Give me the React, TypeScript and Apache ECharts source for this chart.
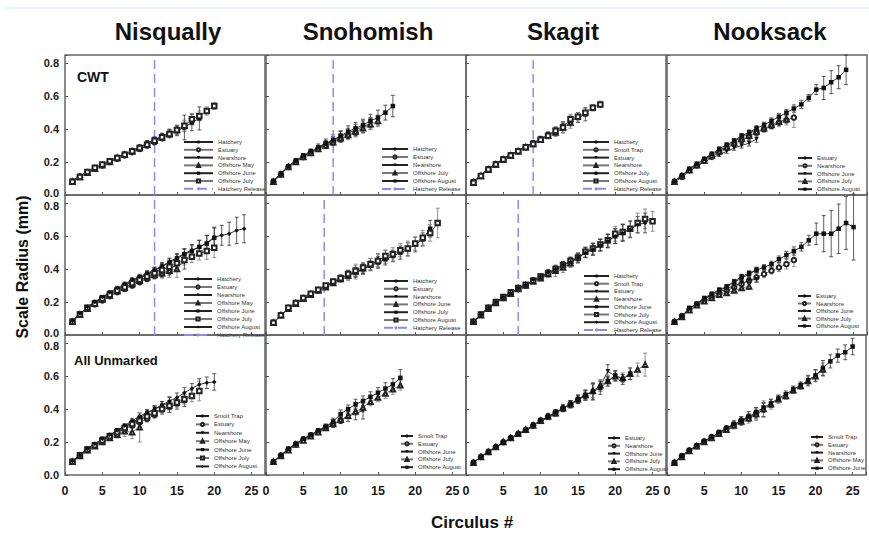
import React, { useEffect, useRef } from "react";
import * as echarts from "echarts";

const rivers = ["Nisqually", "Snohomish", "Skagit", "Nooksack"];
const rowLabels = ["CWT", "", "All Unmarked"];
const xAxisMax = 26.8;
const yAxisMax = 0.85;
const releaseCirculus = [
  [12, 9, 9, null],
  [12, 7.8, 7, null],
  [null, null, null, null],
];

// ---------- Row 1 (CWT) ----------
const nisCwtNames = ["Hatchery", "Estuary", "Nearshore", "Offshore May", "Offshore June", "Offshore July"];
const nisCwtValues = [
  [0.085, 0.115, 0.14, 0.165, 0.185, 0.205, 0.225, 0.245, 0.265, 0.285, 0.31, 0.33],
  [0.08, 0.11, 0.135, 0.16, 0.18, 0.2, 0.22, 0.24, 0.26, 0.28, 0.3, 0.32, 0.345, 0.37],
  [0.085, 0.115, 0.14, 0.165, 0.185, 0.205, 0.225, 0.245, 0.27, 0.29, 0.31, 0.335, 0.355, 0.375, 0.395],
  [0.08, 0.11, 0.135, 0.16, 0.18, 0.2, 0.225, 0.245, 0.265, 0.285, 0.305, 0.33, 0.35, 0.37, 0.395, 0.42],
  [0.085, 0.115, 0.14, 0.165, 0.185, 0.21, 0.23, 0.25, 0.27, 0.29, 0.315, 0.335, 0.355, 0.375, 0.39, 0.41, 0.44, 0.465],
  [0.08, 0.11, 0.14, 0.165, 0.185, 0.205, 0.225, 0.245, 0.265, 0.285, 0.305, 0.33, 0.35, 0.37, 0.395, 0.42, 0.46, 0.48, 0.51, 0.54],
];
const nisCwtErrors = [
  [0.005, 0.006, 0.007, 0.008, 0.008, 0.009, 0.01, 0.01, 0.011, 0.012, 0.013, 0.014],
  [0.005, 0.006, 0.007, 0.008, 0.009, 0.01, 0.01, 0.011, 0.012, 0.013, 0.014, 0.015, 0.016, 0.018],
  [0.005, 0.006, 0.007, 0.008, 0.009, 0.01, 0.011, 0.012, 0.013, 0.014, 0.015, 0.016, 0.018, 0.02, 0.025],
  [0.005, 0.006, 0.007, 0.008, 0.009, 0.01, 0.011, 0.012, 0.013, 0.014, 0.016, 0.018, 0.02, 0.025, 0.03, 0.035],
  [0.005, 0.006, 0.007, 0.008, 0.009, 0.01, 0.011, 0.012, 0.013, 0.014, 0.016, 0.018, 0.02, 0.025, 0.03, 0.075, 0.05, 0.07],
  [0.005, 0.006, 0.007, 0.008, 0.009, 0.01, 0.011, 0.012, 0.013, 0.014, 0.015, 0.016, 0.018, 0.02, 0.025, 0.03, 0.035, 0.03, 0.025, 0.02],
];

const snoCwtNames = ["Hatchery", "Estuary", "Nearshore", "Offshore July", "Offshore August"];
const snoCwtValues = [
  [0.085, 0.13, 0.175, 0.205, 0.235, 0.26, 0.285, 0.305, 0.325, 0.345],
  [0.08, 0.125, 0.17, 0.2, 0.23, 0.255, 0.28, 0.3, 0.32, 0.34, 0.36, 0.38],
  [0.085, 0.13, 0.17, 0.205, 0.235, 0.26, 0.285, 0.31, 0.33, 0.355, 0.375, 0.395, 0.415, 0.435],
  [0.08, 0.125, 0.17, 0.2, 0.23, 0.255, 0.28, 0.3, 0.32, 0.345, 0.365, 0.385, 0.405, 0.43, 0.45],
  [0.085, 0.13, 0.175, 0.21, 0.24, 0.265, 0.29, 0.315, 0.335, 0.36, 0.385, 0.405, 0.425, 0.45, 0.47, 0.5, 0.54],
];
const snoCwtErrors = [
  [0.005, 0.007, 0.008, 0.01, 0.012, 0.014, 0.016, 0.018, 0.02, 0.025],
  [0.005, 0.007, 0.008, 0.01, 0.012, 0.014, 0.016, 0.018, 0.02, 0.022, 0.025, 0.028],
  [0.005, 0.007, 0.008, 0.01, 0.012, 0.014, 0.016, 0.02, 0.025, 0.03, 0.03, 0.032, 0.035, 0.035],
  [0.005, 0.007, 0.008, 0.01, 0.012, 0.014, 0.016, 0.018, 0.02, 0.022, 0.025, 0.028, 0.03, 0.032, 0.035],
  [0.005, 0.007, 0.008, 0.01, 0.012, 0.015, 0.02, 0.025, 0.03, 0.03, 0.035, 0.035, 0.035, 0.04, 0.045, 0.045, 0.065],
];

const skaCwtNames = ["Hatchery", "Smolt Trap", "Estuary", "Nearshore", "Offshore July", "Offshore August"];
const skaCwtValues = [
  [0.08, 0.12, 0.16, 0.19, 0.22, 0.245, 0.27, 0.295, 0.315],
  [0.08, 0.115, 0.155, 0.185, 0.215, 0.24, 0.265, 0.29, 0.31, 0.335],
  [0.08, 0.12, 0.16, 0.19, 0.22, 0.245, 0.27, 0.295, 0.315, 0.34, 0.365, 0.385],
  [0.075, 0.115, 0.155, 0.185, 0.215, 0.24, 0.265, 0.29, 0.31, 0.335, 0.36, 0.38, 0.41, 0.44],
  [0.08, 0.12, 0.16, 0.19, 0.22, 0.245, 0.27, 0.295, 0.315, 0.34, 0.365, 0.39, 0.42, 0.45, 0.47, 0.49],
  [0.075, 0.115, 0.155, 0.185, 0.215, 0.24, 0.265, 0.29, 0.31, 0.335, 0.36, 0.39, 0.41, 0.46, 0.475, 0.5, 0.53, 0.55],
];
const skaCwtErrors = [
  [0.004, 0.005, 0.006, 0.007, 0.008, 0.009, 0.01, 0.011, 0.012],
  [0.004, 0.005, 0.006, 0.007, 0.008, 0.009, 0.01, 0.011, 0.012, 0.013],
  [0.004, 0.005, 0.006, 0.007, 0.008, 0.01, 0.011, 0.012, 0.013, 0.014, 0.015, 0.02],
  [0.004, 0.005, 0.006, 0.007, 0.008, 0.01, 0.011, 0.012, 0.014, 0.016, 0.018, 0.025, 0.03, 0.035],
  [0.004, 0.005, 0.006, 0.007, 0.008, 0.01, 0.011, 0.012, 0.014, 0.016, 0.018, 0.02, 0.025, 0.03, 0.03, 0.04],
  [0.004, 0.005, 0.006, 0.007, 0.008, 0.01, 0.011, 0.012, 0.014, 0.016, 0.018, 0.025, 0.035, 0.03, 0.025, 0.025, 0.02, 0.02],
];

const nooCwtNames = ["Estuary", "Nearshore", "Offshore June", "Offshore July", "Offshore August"];
const nooCwtValues = [
  [0.08, 0.115, 0.155, 0.185, 0.215, 0.245, 0.27, 0.295, 0.325, 0.35, 0.375, 0.395],
  [0.08, 0.11, 0.15, 0.18, 0.21, 0.235, 0.26, 0.285, 0.31, 0.335, 0.355, 0.38, 0.4, 0.42, 0.44, 0.455, 0.47],
  [0.08, 0.11, 0.145, 0.175, 0.2, 0.225, 0.245, 0.265, 0.285, 0.3, 0.315, 0.34],
  [0.08, 0.115, 0.15, 0.18, 0.21, 0.24, 0.265, 0.29, 0.315, 0.34, 0.36, 0.385, 0.405, 0.425, 0.445, 0.46],
  [0.085, 0.12, 0.16, 0.19, 0.22, 0.25, 0.28, 0.305, 0.33, 0.36, 0.38, 0.405, 0.425, 0.45, 0.475, 0.5, 0.525, 0.55, 0.59, 0.64, 0.65, 0.685, 0.715, 0.76],
];
const nooCwtErrors = [
  [0.005, 0.006, 0.007, 0.008, 0.009, 0.01, 0.011, 0.012, 0.013, 0.014, 0.015, 0.016],
  [0.005, 0.006, 0.007, 0.008, 0.009, 0.01, 0.011, 0.012, 0.013, 0.014, 0.015, 0.016, 0.018, 0.02, 0.025, 0.03, 0.06],
  [0.005, 0.006, 0.007, 0.008, 0.009, 0.01, 0.011, 0.012, 0.013, 0.015, 0.018, 0.02],
  [0.005, 0.006, 0.007, 0.008, 0.009, 0.01, 0.011, 0.012, 0.013, 0.014, 0.015, 0.016, 0.018, 0.02, 0.022, 0.025],
  [0.005, 0.006, 0.007, 0.008, 0.009, 0.01, 0.011, 0.012, 0.013, 0.014, 0.015, 0.016, 0.017, 0.018, 0.019, 0.02, 0.022, 0.025, 0.02, 0.03, 0.07, 0.07, 0.07, 0.09],
];

// ---------- Row 2 ----------
const nisR2Names = ["Hatchery", "Estuary", "Nearshore", "Offshore May", "Offshore June", "Offshore July", "Offshore August"];
const nisR2Values = [
  [0.085, 0.13, 0.165, 0.19, 0.22, 0.245, 0.27, 0.29, 0.31, 0.33, 0.35, 0.37],
  [0.08, 0.125, 0.16, 0.185, 0.21, 0.235, 0.26, 0.28, 0.3, 0.32, 0.34, 0.36, 0.37, 0.385],
  [0.085, 0.13, 0.165, 0.195, 0.225, 0.25, 0.275, 0.3, 0.325, 0.345, 0.365, 0.385, 0.4, 0.41, 0.42, 0.44],
  [0.08, 0.125, 0.16, 0.19, 0.215, 0.24, 0.265, 0.285, 0.31, 0.33, 0.35, 0.365, 0.375, 0.39, 0.4],
  [0.085, 0.13, 0.17, 0.2, 0.23, 0.255, 0.28, 0.305, 0.33, 0.35, 0.37, 0.39, 0.415, 0.44, 0.465, 0.49, 0.51, 0.535, 0.555, 0.59],
  [0.08, 0.125, 0.165, 0.19, 0.22, 0.245, 0.27, 0.29, 0.315, 0.335, 0.355, 0.375, 0.395, 0.415, 0.435, 0.455, 0.475, 0.495, 0.51, 0.53],
  [0.085, 0.13, 0.17, 0.2, 0.23, 0.26, 0.285, 0.31, 0.335, 0.355, 0.375, 0.395, 0.42, 0.445, 0.47, 0.495, 0.515, 0.535, 0.56, 0.595, 0.605, 0.615, 0.635, 0.645],
];
const nisR2Errors = [
  [0.005, 0.006, 0.007, 0.008, 0.009, 0.01, 0.011, 0.012, 0.013, 0.014, 0.015, 0.016],
  [0.005, 0.006, 0.007, 0.008, 0.009, 0.01, 0.011, 0.012, 0.013, 0.014, 0.016, 0.018, 0.02, 0.025],
  [0.005, 0.006, 0.007, 0.008, 0.009, 0.01, 0.011, 0.012, 0.014, 0.016, 0.018, 0.02, 0.025, 0.03, 0.035, 0.04],
  [0.005, 0.006, 0.007, 0.008, 0.009, 0.01, 0.012, 0.014, 0.016, 0.018, 0.02, 0.025, 0.03, 0.04, 0.05],
  [0.005, 0.006, 0.007, 0.008, 0.009, 0.01, 0.011, 0.012, 0.013, 0.014, 0.016, 0.018, 0.02, 0.022, 0.025, 0.03, 0.035, 0.04, 0.05, 0.06],
  [0.005, 0.006, 0.007, 0.008, 0.009, 0.01, 0.011, 0.012, 0.013, 0.014, 0.016, 0.018, 0.02, 0.022, 0.025, 0.03, 0.035, 0.04, 0.05, 0.06],
  [0.005, 0.006, 0.007, 0.008, 0.009, 0.01, 0.011, 0.012, 0.013, 0.014, 0.016, 0.018, 0.02, 0.022, 0.025, 0.03, 0.035, 0.04, 0.045, 0.06, 0.06, 0.07, 0.08, 0.085],
];

const snoR2Names = ["Hatchery", "Estuary", "Nearshore", "Offshore June", "Offshore July", "Offshore August"];
const snoR2Values = [
  [0.075, 0.12, 0.16, 0.19, 0.22, 0.245, 0.27, 0.295],
  [0.075, 0.12, 0.165, 0.195, 0.225, 0.25, 0.27, 0.295, 0.32, 0.34],
  [0.075, 0.12, 0.165, 0.195, 0.225, 0.25, 0.275, 0.3, 0.32, 0.345, 0.365, 0.38, 0.4],
  [0.075, 0.12, 0.16, 0.19, 0.22, 0.245, 0.27, 0.29, 0.315, 0.34, 0.36, 0.385, 0.405, 0.43, 0.455, 0.475],
  [0.075, 0.12, 0.165, 0.195, 0.225, 0.25, 0.275, 0.3, 0.32, 0.345, 0.365, 0.38, 0.4, 0.42, 0.44, 0.46, 0.48, 0.5, 0.52, 0.55, 0.58, 0.645],
  [0.075, 0.12, 0.165, 0.195, 0.225, 0.25, 0.275, 0.3, 0.325, 0.345, 0.37, 0.39, 0.41, 0.43, 0.45, 0.48, 0.49, 0.515, 0.525, 0.555, 0.59, 0.62, 0.68],
];
const snoR2Errors = [
  [0.004, 0.005, 0.006, 0.007, 0.008, 0.009, 0.01, 0.011],
  [0.004, 0.005, 0.006, 0.007, 0.008, 0.009, 0.01, 0.011, 0.012, 0.013],
  [0.004, 0.005, 0.006, 0.007, 0.008, 0.009, 0.01, 0.012, 0.014, 0.016, 0.02, 0.025, 0.03],
  [0.004, 0.005, 0.006, 0.007, 0.008, 0.009, 0.01, 0.012, 0.015, 0.02, 0.03, 0.045, 0.03, 0.035, 0.04, 0.04],
  [0.004, 0.005, 0.006, 0.007, 0.008, 0.009, 0.01, 0.012, 0.015, 0.02, 0.025, 0.03, 0.03, 0.03, 0.035, 0.035, 0.035, 0.04, 0.04, 0.045, 0.04, 0.05],
  [0.004, 0.005, 0.006, 0.007, 0.008, 0.009, 0.01, 0.012, 0.015, 0.02, 0.025, 0.03, 0.03, 0.035, 0.04, 0.035, 0.04, 0.04, 0.045, 0.04, 0.045, 0.05, 0.09],
];

const skaR2Names = ["Hatchery", "Smolt Trap", "Estuary", "Nearshore", "Offshore June", "Offshore July", "Offshore August"];
const skaR2Values = [
  [0.08, 0.125, 0.165, 0.2, 0.23, 0.255, 0.285],
  [0.08, 0.125, 0.165, 0.195, 0.225, 0.255, 0.28, 0.3],
  [0.08, 0.125, 0.165, 0.2, 0.23, 0.255, 0.285, 0.305, 0.33, 0.35, 0.37],
  [0.08, 0.12, 0.16, 0.195, 0.225, 0.25, 0.28, 0.3, 0.325, 0.345, 0.37, 0.39, 0.41, 0.435],
  [0.08, 0.125, 0.165, 0.2, 0.23, 0.255, 0.285, 0.305, 0.33, 0.35, 0.375, 0.395, 0.42, 0.445, 0.465, 0.5, 0.52, 0.545, 0.57, 0.6, 0.62],
  [0.08, 0.125, 0.165, 0.2, 0.23, 0.26, 0.285, 0.305, 0.33, 0.355, 0.375, 0.4, 0.425, 0.45, 0.47, 0.505, 0.525, 0.55, 0.575, 0.615, 0.625, 0.645, 0.68, 0.705, 0.69],
  [0.08, 0.125, 0.165, 0.2, 0.23, 0.255, 0.285, 0.305, 0.335, 0.355, 0.38, 0.4, 0.425, 0.445, 0.47, 0.5, 0.52, 0.545, 0.57, 0.6, 0.62, 0.64, 0.67, 0.68],
];
const skaR2Errors = [
  [0.004, 0.005, 0.006, 0.007, 0.008, 0.009, 0.01],
  [0.004, 0.005, 0.006, 0.007, 0.008, 0.009, 0.01, 0.011],
  [0.004, 0.005, 0.006, 0.007, 0.008, 0.009, 0.01, 0.011, 0.012, 0.013, 0.015],
  [0.004, 0.005, 0.006, 0.007, 0.008, 0.009, 0.01, 0.012, 0.014, 0.016, 0.02, 0.035, 0.03, 0.025],
  [0.004, 0.005, 0.006, 0.007, 0.008, 0.009, 0.01, 0.012, 0.014, 0.016, 0.018, 0.02, 0.022, 0.025, 0.028, 0.03, 0.035, 0.035, 0.04, 0.045, 0.05],
  [0.004, 0.005, 0.006, 0.007, 0.008, 0.009, 0.01, 0.012, 0.014, 0.016, 0.018, 0.02, 0.022, 0.025, 0.028, 0.03, 0.035, 0.035, 0.04, 0.045, 0.05, 0.05, 0.06, 0.06, 0.06],
  [0.004, 0.005, 0.006, 0.007, 0.008, 0.009, 0.01, 0.012, 0.014, 0.016, 0.018, 0.02, 0.022, 0.025, 0.028, 0.03, 0.035, 0.035, 0.04, 0.045, 0.05, 0.05, 0.05, 0.06],
];

const nooR2Names = ["Estuary", "Nearshore", "Offshore June", "Offshore July", "Offshore August"];
const nooR2Values = [
  [0.08, 0.115, 0.16, 0.19, 0.22, 0.245, 0.27, 0.29, 0.32, 0.345, 0.37, 0.395],
  [0.08, 0.115, 0.155, 0.185, 0.21, 0.23, 0.25, 0.27, 0.29, 0.31, 0.33, 0.35, 0.37, 0.39, 0.41, 0.43, 0.455],
  [0.08, 0.115, 0.16, 0.19, 0.22, 0.24, 0.26, 0.28, 0.3, 0.315, 0.33, 0.34],
  [0.08, 0.11, 0.15, 0.18, 0.205, 0.225, 0.245, 0.255, 0.27, 0.285, 0.295],
  [0.08, 0.115, 0.165, 0.19, 0.225, 0.25, 0.275, 0.295, 0.325, 0.355, 0.375, 0.395, 0.41, 0.43, 0.46, 0.485, 0.51, 0.535, 0.575, 0.615, 0.615, 0.615, 0.645, 0.68, 0.655],
];
const nooR2Errors = [
  [0.005, 0.006, 0.007, 0.008, 0.009, 0.01, 0.011, 0.012, 0.013, 0.014, 0.015, 0.016],
  [0.005, 0.006, 0.007, 0.008, 0.009, 0.01, 0.011, 0.012, 0.013, 0.015, 0.02, 0.025, 0.02, 0.02, 0.025, 0.03, 0.04],
  [0.005, 0.006, 0.007, 0.008, 0.009, 0.01, 0.011, 0.012, 0.013, 0.015, 0.018, 0.02],
  [0.005, 0.006, 0.007, 0.008, 0.009, 0.01, 0.011, 0.012, 0.013, 0.015, 0.018],
  [0.005, 0.006, 0.007, 0.008, 0.009, 0.01, 0.011, 0.012, 0.013, 0.014, 0.015, 0.016, 0.017, 0.018, 0.02, 0.022, 0.025, 0.025, 0.03, 0.065, 0.11, 0.14, 0.15, 0.16, 0.2],
];

// ---------- Row 3 (All Unmarked) ----------
const nisR3Names = ["Smolt Trap", "Estuary", "Nearshore", "Offshore May", "Offshore June", "Offshore July", "Offshore August"];
const nisR3Values = [
  [0.08, 0.12, 0.155, 0.18, 0.21, 0.235, 0.26, 0.285, 0.31, 0.335],
  [0.08, 0.115, 0.15, 0.18, 0.205, 0.23, 0.255, 0.28, 0.3, 0.32, 0.34, 0.365],
  [0.085, 0.12, 0.16, 0.185, 0.215, 0.24, 0.27, 0.295, 0.32, 0.345, 0.375, 0.4, 0.42, 0.44],
  [0.08, 0.115, 0.15, 0.175, 0.2, 0.225, 0.245, 0.265, 0.26, 0.29],
  [0.08, 0.12, 0.16, 0.185, 0.22, 0.24, 0.27, 0.29, 0.32, 0.34, 0.36, 0.38, 0.395, 0.41, 0.43, 0.45],
  [0.08, 0.12, 0.155, 0.18, 0.21, 0.235, 0.26, 0.285, 0.31, 0.33, 0.355, 0.375, 0.4, 0.42, 0.44, 0.46, 0.48, 0.51],
  [0.085, 0.12, 0.16, 0.19, 0.22, 0.245, 0.27, 0.3, 0.33, 0.355, 0.38, 0.4, 0.425, 0.45, 0.47, 0.5, 0.525, 0.55, 0.56, 0.565],
];
const nisR3Errors = [
  [0.005, 0.006, 0.007, 0.008, 0.009, 0.01, 0.011, 0.012, 0.013, 0.015],
  [0.005, 0.006, 0.007, 0.008, 0.009, 0.01, 0.011, 0.012, 0.013, 0.015, 0.018, 0.02],
  [0.005, 0.006, 0.007, 0.008, 0.009, 0.01, 0.011, 0.012, 0.014, 0.016, 0.018, 0.02, 0.025, 0.03],
  [0.005, 0.006, 0.007, 0.008, 0.01, 0.015, 0.02, 0.03, 0.04, 0.09],
  [0.005, 0.006, 0.007, 0.008, 0.009, 0.01, 0.011, 0.012, 0.014, 0.016, 0.018, 0.02, 0.025, 0.03, 0.03, 0.035],
  [0.005, 0.006, 0.007, 0.008, 0.009, 0.01, 0.011, 0.012, 0.014, 0.016, 0.018, 0.02, 0.022, 0.025, 0.028, 0.03, 0.035, 0.06],
  [0.005, 0.006, 0.007, 0.008, 0.009, 0.01, 0.011, 0.012, 0.014, 0.016, 0.018, 0.02, 0.022, 0.025, 0.028, 0.03, 0.03, 0.035, 0.035, 0.05],
];

const snoR3Names = ["Smolt Trap", "Estuary", "Offshore June", "Offshore July", "Offshore August"];
const snoR3Values = [
  [0.08, 0.12, 0.155, 0.19, 0.22, 0.24, 0.27, 0.29, 0.32],
  [0.08, 0.12, 0.155, 0.185, 0.215, 0.24, 0.265, 0.285, 0.31, 0.33],
  [0.08, 0.12, 0.155, 0.185, 0.215, 0.24, 0.265, 0.285, 0.305, 0.335, 0.355, 0.375, 0.39],
  [0.08, 0.115, 0.15, 0.185, 0.21, 0.235, 0.26, 0.285, 0.31, 0.335, 0.36, 0.385, 0.41, 0.445, 0.47, 0.495, 0.52, 0.545],
  [0.08, 0.12, 0.16, 0.19, 0.22, 0.245, 0.27, 0.295, 0.325, 0.37, 0.4, 0.43, 0.45, 0.475, 0.5, 0.525, 0.55, 0.59],
];
const snoR3Errors = [
  [0.005, 0.006, 0.007, 0.008, 0.009, 0.01, 0.011, 0.012, 0.013],
  [0.005, 0.006, 0.007, 0.008, 0.009, 0.01, 0.011, 0.012, 0.013, 0.015],
  [0.005, 0.006, 0.007, 0.008, 0.009, 0.01, 0.012, 0.014, 0.016, 0.02, 0.03, 0.04, 0.05],
  [0.005, 0.006, 0.007, 0.008, 0.009, 0.01, 0.012, 0.014, 0.016, 0.018, 0.02, 0.022, 0.025, 0.025, 0.025, 0.03, 0.03, 0.03],
  [0.005, 0.006, 0.007, 0.008, 0.009, 0.01, 0.012, 0.015, 0.02, 0.025, 0.025, 0.03, 0.03, 0.03, 0.03, 0.035, 0.035, 0.05],
];

const skaR3Names = ["Estuary", "Nearshore", "Offshore June", "Offshore July", "Offshore August"];
const skaR3Values = [
  [0.075, 0.11, 0.14, 0.17, 0.195, 0.225, 0.25, 0.27, 0.3, 0.325, 0.35, 0.375],
  [0.075, 0.11, 0.14, 0.17, 0.2, 0.225, 0.25, 0.275, 0.3, 0.33, 0.355, 0.38, 0.405, 0.43, 0.455, 0.48],
  [0.075, 0.11, 0.145, 0.17, 0.195, 0.225, 0.25, 0.27, 0.3, 0.33, 0.355, 0.375, 0.405, 0.43, 0.46, 0.485, 0.51, 0.54, 0.63, 0.6],
  [0.075, 0.11, 0.14, 0.17, 0.2, 0.225, 0.25, 0.275, 0.3, 0.33, 0.355, 0.375, 0.405, 0.43, 0.46, 0.485, 0.51, 0.545, 0.57, 0.6, 0.59, 0.615, 0.64, 0.67],
  [0.075, 0.11, 0.14, 0.17, 0.195, 0.225, 0.25, 0.27, 0.305, 0.33, 0.355, 0.38, 0.405, 0.43, 0.46, 0.485, 0.505, 0.53, 0.57, 0.605, 0.58, 0.615],
];
const skaR3Errors = [
  [0.004, 0.005, 0.006, 0.007, 0.008, 0.009, 0.01, 0.011, 0.012, 0.013, 0.014, 0.015],
  [0.004, 0.005, 0.006, 0.007, 0.008, 0.009, 0.01, 0.011, 0.012, 0.013, 0.015, 0.017, 0.02, 0.02, 0.022, 0.025],
  [0.004, 0.005, 0.006, 0.007, 0.008, 0.009, 0.01, 0.011, 0.012, 0.014, 0.016, 0.018, 0.02, 0.022, 0.025, 0.03, 0.05, 0.03, 0.04, 0.03],
  [0.004, 0.005, 0.006, 0.007, 0.008, 0.009, 0.01, 0.011, 0.012, 0.014, 0.016, 0.018, 0.02, 0.022, 0.025, 0.03, 0.04, 0.035, 0.03, 0.03, 0.03, 0.035, 0.04, 0.07],
  [0.004, 0.005, 0.006, 0.007, 0.008, 0.009, 0.01, 0.011, 0.012, 0.014, 0.016, 0.018, 0.02, 0.022, 0.025, 0.03, 0.05, 0.04, 0.03, 0.03, 0.03, 0.035],
];

const nooR3Names = ["Smolt Trap", "Estuary", "Nearshore", "Offshore May", "Offshore June"];
const nooR3Values = [
  [0.075, 0.115, 0.15, 0.175, 0.205, 0.23, 0.255, 0.28, 0.305, 0.325],
  [0.075, 0.115, 0.15, 0.175, 0.205, 0.23, 0.255, 0.28, 0.305, 0.33, 0.35, 0.375],
  [0.075, 0.115, 0.15, 0.175, 0.205, 0.23, 0.255, 0.28, 0.305, 0.325, 0.35, 0.37, 0.395],
  [0.075, 0.11, 0.145, 0.175, 0.2, 0.225, 0.25, 0.275, 0.3, 0.325, 0.345, 0.37, 0.4, 0.43, 0.46, 0.48, 0.515, 0.54, 0.57, 0.6, 0.64],
  [0.075, 0.115, 0.15, 0.18, 0.205, 0.23, 0.26, 0.285, 0.31, 0.33, 0.355, 0.38, 0.41, 0.435, 0.465, 0.49, 0.52, 0.545, 0.575, 0.605, 0.65, 0.69, 0.725, 0.745, 0.78],
];
const nooR3Errors = [
  [0.004, 0.005, 0.006, 0.007, 0.008, 0.009, 0.01, 0.011, 0.012, 0.013],
  [0.004, 0.005, 0.006, 0.007, 0.008, 0.009, 0.01, 0.011, 0.012, 0.013, 0.014, 0.015],
  [0.004, 0.005, 0.006, 0.007, 0.008, 0.009, 0.01, 0.012, 0.014, 0.016, 0.02, 0.03, 0.04],
  [0.004, 0.005, 0.006, 0.007, 0.008, 0.01, 0.012, 0.015, 0.02, 0.025, 0.03, 0.04, 0.05, 0.03, 0.025, 0.02, 0.02, 0.02, 0.03, 0.035, 0.04],
  [0.004, 0.005, 0.006, 0.007, 0.008, 0.01, 0.012, 0.015, 0.02, 0.025, 0.03, 0.03, 0.03, 0.025, 0.02, 0.02, 0.02, 0.02, 0.03, 0.035, 0.045, 0.04, 0.04, 0.045, 0.05],
];

const panelData = [
  [nisCwtNames, nisCwtValues, nisCwtErrors],
  [snoCwtNames, snoCwtValues, snoCwtErrors],
  [skaCwtNames, skaCwtValues, skaCwtErrors],
  [nooCwtNames, nooCwtValues, nooCwtErrors],
  [nisR2Names, nisR2Values, nisR2Errors],
  [snoR2Names, snoR2Values, snoR2Errors],
  [skaR2Names, skaR2Values, skaR2Errors],
  [nooR2Names, nooR2Values, nooR2Errors],
  [nisR3Names, nisR3Values, nisR3Errors],
  [snoR3Names, snoR3Values, snoR3Errors],
  [skaR3Names, skaR3Values, skaR3Errors],
  [nooR3Names, nooR3Values, nooR3Errors],
] as const;

// ---------- layout (pixels) ----------
const colLeft = [65, 266, 466, 667];
const rowTop = [55, 195, 335];
const panelW = 200;
const panelH = 140;
// legend layout per panel: [left, first item centre y, line width, spacing]
const legendLayout = [
  [183, 142, 29, 7.8], [381, 149, 26, 8], [582, 142, 26, 7.8], [797, 158, 14, 7.8],
  [183, 279, 28, 8], [383, 281, 24, 7.8], [583, 276, 25, 7.7], [797, 296, 13, 7.5],
  [195, 416, 13, 8.4], [400, 436, 12, 7.8], [607, 438, 12, 7.8], [810, 437, 12, 7.8],
];
const titleX = [168, 368, 563, 770];

const symbolOrder = ["circle", "emptyCircle", "triangle", "emptyTriangle", "rect", "emptyRect", "diamond"];
const symbolRot = [0, 0, 180, 0, 0, 0, 0];
const FONT = "'Liberation Sans', Arial, Helvetica, sans-serif";

const makeErr = (color: string) => (_params: any, api: any) => {
  const x = api.value(0);
  const y = api.value(1);
  const e = api.value(2);
  const hi = api.coord([x, y + e]);
  const lo = api.coord([x, y - e]);
  const w = 2;
  const style = { stroke: color, lineWidth: 0.8, fill: "none" };
  return {
    type: "group",
    children: [
      { type: "line", shape: { x1: hi[0], y1: hi[1], x2: lo[0], y2: lo[1] }, style },
      { type: "line", shape: { x1: hi[0] - w, y1: hi[1], x2: hi[0] + w, y2: hi[1] }, style },
      { type: "line", shape: { x1: lo[0] - w, y1: lo[1], x2: lo[0] + w, y2: lo[1] }, style },
    ],
  };
};

const yLabelBase = { fontWeight: "bold", fontSize: 11, fontFamily: FONT, color: "#1a1a1a" };

function buildOption() {
  const grids: any[] = [];
  const xAxes: any[] = [];
  const yAxes: any[] = [];
  const series: any[] = [];
  const legends: any[] = [];

  for (let gi = 0; gi < 12; gi++) {
    const r = Math.floor(gi / 4);
    const c = gi % 4;
    grids.push({
      left: colLeft[c], top: rowTop[r], width: panelW, height: panelH,
      show: true, borderColor: "#666", borderWidth: 1.5, backgroundColor: "transparent",
    });
    xAxes.push({
      gridIndex: gi, type: "value", min: 0, max: xAxisMax, interval: 5,
      axisLine: { show: false },
      axisTick: { show: true, inside: true, length: 3, lineStyle: { color: "#555" } },
      splitLine: { show: false },
      axisLabel: {
        show: r === 2, margin: 9, color: "#1a1a1a", fontWeight: "bold", fontSize: 12.5, fontFamily: FONT,
        formatter: (v: number) => (Math.abs(v % 5) < 1e-6 ? String(v) : ""),
      },
    });
    const shiftZeroUp = r < 2;
    const shiftTopDown = r > 0;
    yAxes.push({
      gridIndex: gi, type: "value", min: 0, max: yAxisMax, interval: 0.2,
      axisLine: { show: false },
      axisTick: { show: true, inside: true, length: 3, lineStyle: { color: "#555" } },
      splitLine: { show: false },
      axisLabel: {
        show: c === 0, margin: 6, ...yLabelBase,
        formatter: (v: number) => {
          if (Math.abs(v * 5 - Math.round(v * 5)) > 1e-6) return "";
          const t = v.toFixed(1);
          if (v === 0 && shiftZeroUp) return `{lo|${t}}`;
          if (Math.abs(v - 0.8) < 1e-6 && shiftTopDown) return `{hi|${t}}`;
          return t;
        },
        rich: {
          lo: { ...yLabelBase, padding: [0, 0, 5, 0] },
          hi: { ...yLabelBase, padding: [5, 0, 0, 0] },
        },
      },
    });

    const [names, values, errors] = panelData[gi] as any;
    const legendNames: string[] = [];
    names.forEach((nm: string, k: number) => {
      const id = `${gi}|${nm}`;
      legendNames.push(id);
      const filled = k % 2 === 0;
      const vals: number[] = values[k];
      const errs: number[] = errors[k];
      series.push({
        type: "custom", name: `err${id}`, xAxisIndex: gi, yAxisIndex: gi, z: 1, silent: true,
        renderItem: makeErr(filled ? "#333" : "#777"),
        data: vals.map((v, i) => [i + 1, v, errs[i] ?? 0]),
      });
      series.push({
        type: "line", name: id, xAxisIndex: gi, yAxisIndex: gi, z: 3,
        data: vals.map((v, i) => [i + 1, v]),
        symbol: symbolOrder[k], symbolRotate: symbolRot[k], symbolSize: 4.5, showAllSymbol: true,
        itemStyle: { color: filled ? "#111" : "#222", borderWidth: 0.7 },
        lineStyle: { color: filled ? "#222" : "#777", width: 0.9 },
        silent: true,
      });
    });
    const rc = releaseCirculus[r][c];
    if (rc !== null) {
      const id = `${gi}|Hatchery Release`;
      legendNames.push(id);
      series.push({
        type: "line", name: id, xAxisIndex: gi, yAxisIndex: gi, z: 2, silent: true,
        data: [[rc, 0], [rc, yAxisMax]], symbol: "none",
        lineStyle: { color: "#8c8cf0", width: 1.5, type: [9, 5] },
        itemStyle: { color: "#8c8cf0" },
      });
    }
    const [lx, ly, lw, sp] = legendLayout[gi];
    legends.push({
      data: legendNames, orient: "vertical", left: lx, top: ly - 3, padding: 0,
      itemWidth: lw, itemHeight: 4, itemGap: sp - 6, selectedMode: false,
      formatter: (n: string) => n.split("|")[1],
      textStyle: { fontSize: 6, lineHeight: 6, color: "#333", fontFamily: FONT },
    });
  }

  const graphics: any[] = [
    { type: "line", shape: { x1: 6, y1: 8, x2: 869, y2: 8 }, style: { stroke: "#cfe7f5", lineWidth: 1 } },
  ];
  rivers.forEach((name, i) => {
    graphics.push({
      type: "text", x: titleX[i], y: 31,
      style: { text: name, font: `bold 24px ${FONT}`, fill: "#111", textAlign: "center", align: "center", textVerticalAlign: "middle", verticalAlign: "middle" },
    });
  });
  if (rowLabels[0]) {
    graphics.push({
      type: "text", x: 77, y: 77,
      style: { text: rowLabels[0], font: `bold 14px ${FONT}`, fill: "#111", textAlign: "left", align: "left", textVerticalAlign: "middle", verticalAlign: "middle" },
    });
  }
  if (rowLabels[2]) {
    graphics.push({
      type: "text", x: 74, y: 360,
      style: { text: rowLabels[2], font: `bold 13px ${FONT}`, fill: "#111", textAlign: "left", align: "left", textVerticalAlign: "middle", verticalAlign: "middle" },
    });
  }
  graphics.push({
    type: "text", x: 22, y: 267, rotation: Math.PI / 2,
    style: { text: "Scale Radius (mm)", font: `bold 16px ${FONT}`, fill: "#111", textAlign: "center", align: "center", textVerticalAlign: "middle", verticalAlign: "middle" },
  });
  graphics.push({
    type: "text", x: 472, y: 522,
    style: { text: "Circulus #", font: `bold 17px ${FONT}`, fill: "#111", textAlign: "center", align: "center", textVerticalAlign: "middle", verticalAlign: "middle" },
  });

  return {
    animation: false,
    backgroundColor: "#ffffff",
    grid: grids,
    xAxis: xAxes,
    yAxis: yAxes,
    legend: legends,
    series,
    graphic: graphics,
  };
}

export default function App() {
  const ref = useRef<HTMLDivElement>(null);
  useEffect(() => {
    if (!ref.current) return;
    const chart = echarts.init(ref.current, undefined, { renderer: "svg" });
    chart.setOption(buildOption() as any);
    return () => chart.dispose();
  }, []);
  return (
    <div
      ref={ref}
      style={{ position: "fixed", left: 0, top: 0, width: 869, height: 535, background: "#fff" }}
    />
  );
}
